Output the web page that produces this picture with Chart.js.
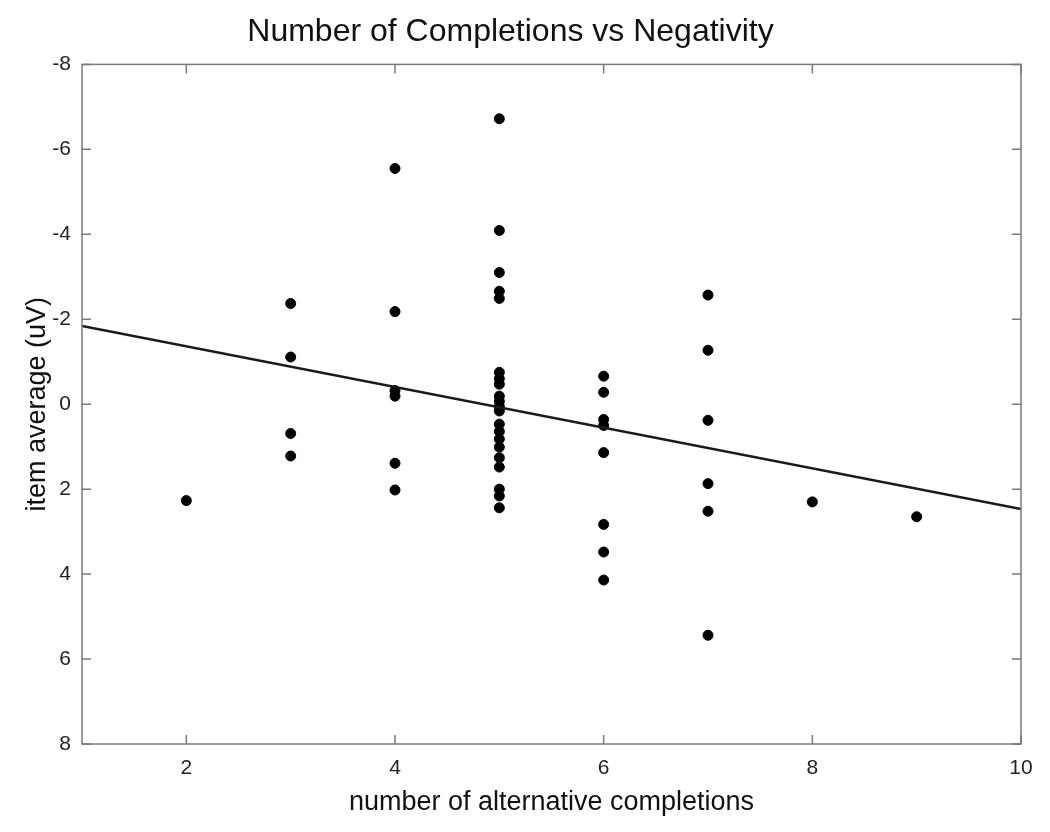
<!DOCTYPE html>
<html>
<head>
<meta charset="utf-8">
<script src="https://cdn.jsdelivr.net/npm/chart.js@4.4.0/dist/chart.umd.min.js"></script>
<style>
  html, body { margin: 0; padding: 0; background: #fff; }
  #wrap { width: 1050px; height: 832px; }
</style>
</head>
<body>
<div id="wrap"><canvas id="chart"></canvas></div>
<script>
// number of alternative completions per item
const completions = [
    2,
    3, 3, 3, 3,
    4, 4, 4, 4, 4, 4,
    5, 5, 5, 5, 5, 5, 5, 5, 5, 5, 5, 5, 5, 5, 5, 5, 5, 5, 5, 5, 5,
    6, 6, 6, 6, 6, 6, 6, 6,
    7, 7, 7, 7, 7, 7,
    8,
    9
];
// item average (uV)
const itemAverage = [
    2.27,
    -2.37, -1.11, 0.69, 1.22,
    -5.55, -2.18, -0.32, -0.19, 1.39, 2.02,
    -6.72, -4.09, -3.1, -2.66, -2.49, -0.75, -0.6, -0.47, -0.19, -0.07, 0.05, 0.16, 0.47, 0.64, 0.82, 1.01, 1.26, 1.48, 2.0, 2.16, 2.44,
    -0.66, -0.28, 0.36, 0.5, 1.14, 2.83, 3.48, 4.14,
    -2.57, -1.27, 0.38, 1.87, 2.52, 5.44,
    2.3,
    2.65
];
// fitted regression line end points
const fitX = [1, 10];
const fitY = [-1.84, 2.47];

const xTicks = [2, 4, 6, 8, 10];
const yTicks = [-8, -6, -4, -2, 0, 2, 4, 6, 8];

const points = completions.map((c, i) => ({ x: c, y: itemAverage[i] }));
const fitLine = fitX.map((x, i) => ({ x: x, y: fitY[i] }));

// matlab style box with inward ticks on every side
const boxTicks = {
    id: 'boxTicks',
    afterDraw(chart) {
        const ctx = chart.ctx;
        const a = chart.chartArea;
        const xs = chart.scales.x, ys = chart.scales.y;
        const len = 9;
        ctx.save();
        ctx.strokeStyle = '#7a7a7a';
        ctx.lineWidth = 1.5;
        ctx.strokeRect(a.left, a.top, a.right - a.left, a.bottom - a.top);
        ctx.beginPath();
        xTicks.forEach(v => {
            const px = xs.getPixelForValue(v);
            ctx.moveTo(px, a.bottom); ctx.lineTo(px, a.bottom - len);
            ctx.moveTo(px, a.top); ctx.lineTo(px, a.top + len);
        });
        yTicks.forEach(v => {
            const py = ys.getPixelForValue(v);
            ctx.moveTo(a.left, py); ctx.lineTo(a.left + len, py);
            ctx.moveTo(a.right, py); ctx.lineTo(a.right - len, py);
        });
        ctx.stroke();
        ctx.restore();
    }
};

const font = '"Liberation Sans", Arial, Helvetica, sans-serif';

new Chart(document.getElementById('chart'), {
    type: 'scatter',
    data: {
        datasets: [
            {
                type: 'line',
                data: fitLine,
                borderColor: '#1a1a1a',
                borderWidth: 2.5,
                pointRadius: 0,
                fill: false
            },
            {
                data: points,
                backgroundColor: '#000',
                borderColor: '#000',
                pointRadius: 5,
                pointHoverRadius: 5
            }
        ]
    },
    options: {
        responsive: true,
        maintainAspectRatio: false,
        animation: false,
        layout: { padding: { right: 29 } },
        plugins: {
            legend: { display: false },
            tooltip: { enabled: false },
            title: {
                display: true,
                text: 'Number of Completions vs Negativity',
                color: '#111',
                font: { family: font, size: 32, weight: 'normal' },
                padding: { top: 13, bottom: 13 }
            }
        },
        scales: {
            x: {
                type: 'linear',
                min: 1,
                max: 10,
                afterFit(scale) { scale.height = 88; },
                afterBuildTicks(scale) { scale.ticks = xTicks.map(v => ({ value: v })); },
                grid: { display: false, drawTicks: false },
                border: { display: false },
                ticks: {
                    color: '#222',
                    padding: 12,
                    font: { family: font, size: 21 }
                },
                title: {
                    display: true,
                    text: 'number of alternative completions',
                    color: '#111',
                    font: { family: font, size: 27 },
                    padding: { top: 13, bottom: 13 }
                }
            },
            y: {
                type: 'linear',
                min: -8,
                max: 8,
                reverse: true,
                afterFit(scale) { scale.width = 82; },
                afterBuildTicks(scale) { scale.ticks = yTicks.map(v => ({ value: v })); },
                grid: { display: false, drawTicks: false },
                border: { display: false },
                ticks: {
                    color: '#222',
                    padding: 11,
                    font: { family: font, size: 21 }
                },
                title: {
                    display: true,
                    text: 'item average (uV)',
                    color: '#111',
                    font: { family: font, size: 27 },
                    padding: { top: 21, bottom: 21 }
                }
            }
        }
    },
    plugins: [boxTicks]
});
</script>
</body>
</html>
